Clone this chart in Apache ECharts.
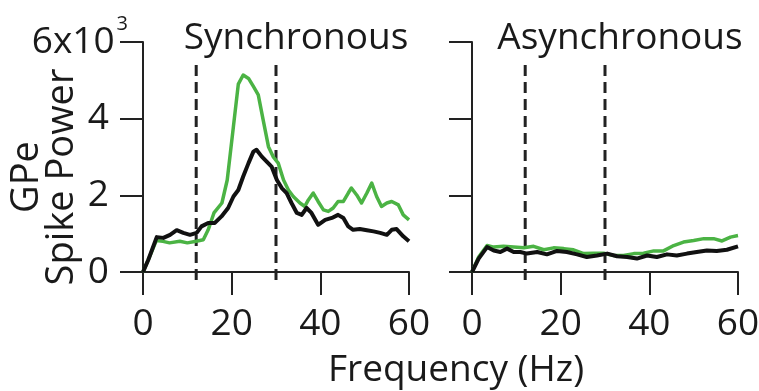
<!DOCTYPE html>
<html>
<head>
<meta charset="utf-8">
<script src="https://cdn.jsdelivr.net/npm/echarts@6/dist/echarts.min.js"></script>
<style>html,body{margin:0;padding:0;background:#fff;}#c{width:759px;height:391px;}</style>
</head>
<body>
<div id="c"></div>
<script>
// ---- data (power in units of 10^3) ----
const syncFreq  = [0,1.2,3.1,4.6,6.1,7.6,9.1,10.6,12.1,13.2,14.7,16.2,17.7,19.2,20.4,21.5,22.6,23.8,24.9,25.6,26.8,27.9,29,30.2,31.3,32.4,33.5,34.7,35.8,36.9,38,39.5,41.1,42.6,44,45.2,46.3,47.4,48.9,50.5,52,53.5,55,56.1,57.2,58.7,60];
const syncBlack = [0,0.32,0.91,0.89,0.97,1.09,1.02,0.97,1.02,1.19,1.28,1.28,1.45,1.67,1.97,2.14,2.49,2.84,3.14,3.19,3.01,2.88,2.75,2.4,2.19,2.06,1.8,1.54,1.49,1.67,1.54,1.23,1.36,1.41,1.49,1.41,1.19,1.1,1.12,1.09,1.06,1.02,0.97,1.1,1.12,0.93,0.8];
const syncGreenFreq = [0,1.5,3,4.5,6,8.3,10,12,13.6,14.7,16,17.8,19,20.4,21.5,22.6,23.8,24.9,26,27.1,28.3,29.4,30.5,31.7,32.8,33.9,35.4,36.5,37.3,38.4,39.5,40.7,41.8,42.9,44,45.2,46.3,47,48.2,49.3,50.5,51.6,52.7,53.8,55,56.1,57.6,58.7,60];
const syncGreen = [0,0.4,0.82,0.8,0.76,0.8,0.76,0.8,0.84,1.1,1.54,1.8,2.4,3.8,4.9,5.14,5.05,4.84,4.62,3.97,3.27,3.0,2.84,2.4,2.14,1.97,1.8,1.71,1.88,2.06,1.84,1.62,1.58,1.67,1.84,1.84,2.06,2.19,2.01,1.8,2.06,2.32,1.97,1.71,1.8,1.84,1.75,1.49,1.36];
const asyncGreenFreq = [0,1.5,3.4,4.9,7.1,9.4,11.7,13.9,16.2,18.4,20.7,22.9,25.2,27.4,29.7,32,34.2,36.5,38.7,41,43.2,45.5,47.7,50,52.3,54.5,56.4,58.3,60];
const asyncGreen = [0,0.39,0.69,0.65,0.67,0.65,0.63,0.67,0.58,0.63,0.61,0.58,0.48,0.49,0.49,0.43,0.43,0.48,0.49,0.55,0.55,0.69,0.78,0.82,0.87,0.87,0.81,0.91,0.95];
const asyncBlackFreq = [0,1.5,3.4,4.9,6.4,7.9,9.4,10.9,12.4,14.7,16.9,19.2,21.4,23.7,25.9,28.2,30.5,32.7,35,37.2,39.5,41.7,44,46.2,48.5,50.7,53,55.2,57.5,60];
const asyncBlack = [0,0.35,0.65,0.56,0.52,0.61,0.52,0.52,0.48,0.52,0.46,0.55,0.52,0.46,0.39,0.43,0.48,0.41,0.39,0.35,0.43,0.39,0.46,0.43,0.48,0.52,0.56,0.55,0.58,0.67];
const bandEdges = [12, 30];          // beta band boundaries (Hz)
const bandSpan  = [5.4, -0.25];      // vertical extent of dashed lines
const yTickLabels = ['0', '2', '4', '6x10^3'];
const panelTitles = ['Synchronous', 'Asynchronous'];
const xName = 'Frequency (Hz)';
const yName = 'GPe\nSpike Power';

const GREEN = '#4bb344', BLACK = '#111111', AX = '#222222';
const FONT = 'Open Sans';

function zip(xs, ys) { return xs.map((x, i) => [x, ys[i]]); }

const grids = [
  { left: 143, width: 266, top: 42, height: 230, containLabel: false, outerBoundsMode: 'none' },
  { left: 472, width: 266, top: 42, height: 230, containLabel: false, outerBoundsMode: 'none' }
];

function xAxis(i) {
  return {
    gridIndex: i, type: 'value', min: 0, max: 60, interval: 20,
    axisLine: { show: true, lineStyle: { color: AX, width: 2 } },
    axisTick: { show: true, inside: false, length: 23, lineStyle: { color: AX, width: 2 } },
    axisLabel: { show: true, margin: 34, fontFamily: FONT, fontSize: 37, color: '#1a1a1a' },
    splitLine: { show: false }
  };
}
function yAxis(i) {
  return {
    gridIndex: i, type: 'value', min: 0, max: 6, interval: 2,
    axisLine: { show: true, lineStyle: { color: AX, width: 2 } },
    axisTick: { show: true, inside: false, length: 23, lineStyle: { color: AX, width: 2 } },
    axisLabel: i === 0 ? {
      show: true, margin: 15, fontFamily: FONT, color: '#1a1a1a',
      formatter: function (v) {
        const t = yTickLabels[Math.round(v / 2)];
        if (t.indexOf('^') >= 0) {
          const p = t.split('^');
          return '{a|' + p[0] + '}{s|' + p[1] + '}';
        }
        return '{n|' + t + '}';
      },
      rich: {
        n: { fontFamily: FONT, fontSize: 37, color: '#1a1a1a', padding: [0, 19, 0, 0] },
        a: { fontFamily: FONT, fontSize: 37, color: '#1a1a1a' },
        s: { fontFamily: FONT, fontSize: 20, color: '#1a1a1a', lineHeight: 20, padding: [0, 0, 36, 2] }
      }
    } : { show: false },
    splitLine: { show: false },
    name: i === 0 ? yName : '',
    nameLocation: 'middle', nameRotate: 90, nameGap: 63, nameMoveOverlap: false,
    nameTextStyle: { fontFamily: FONT, fontSize: 38, lineHeight: 35, color: '#1a1a1a', padding: [0, 40, 0, 0] }
  };
}

function lineSeries(i, data, color, width, z) {
  return { type: 'line', xAxisIndex: i, yAxisIndex: i, data: data, showSymbol: false, symbol: 'none',
    lineStyle: { color: color, width: width, join: 'round' }, z: z, silent: true, animation: false };
}
function dashSeries(i, x) {
  return { type: 'line', xAxisIndex: i, yAxisIndex: i, data: [[x, bandSpan[0]], [x, bandSpan[1]]],
    showSymbol: false, symbol: 'none', clip: false,
    lineStyle: { color: AX, width: 3, type: [11, 6] }, z: 1, silent: true, animation: false };
}

const series = [];
[0, 1].forEach(i => bandEdges.forEach(x => series.push(dashSeries(i, x))));
series.push(lineSeries(0, zip(syncGreenFreq, syncGreen), GREEN, 3.5, 2));
series.push(lineSeries(0, zip(syncFreq, syncBlack), BLACK, 4, 3));
series.push(lineSeries(1, zip(asyncGreenFreq, asyncGreen), GREEN, 3.5, 2));
series.push(lineSeries(1, zip(asyncBlackFreq, asyncBlack), BLACK, 4, 3));

const chart = echarts.init(document.getElementById('c'), null, { renderer: 'canvas' });
chart.setOption({
  backgroundColor: '#fff',
  animation: false,
  title: [
    { text: panelTitles[0], left: 291, top: 11, textAlign: 'center',
      textStyle: { fontFamily: FONT, fontSize: 37, fontWeight: 'normal', color: '#1a1a1a', lineHeight: 44 } },
    { text: panelTitles[1], left: 615, top: 11, textAlign: 'center',
      textStyle: { fontFamily: FONT, fontSize: 37, fontWeight: 'normal', color: '#1a1a1a', lineHeight: 44 } },
    { text: xName, left: 451, top: 343, textAlign: 'center',
      textStyle: { fontFamily: FONT, fontSize: 37, fontWeight: 'normal', color: '#1a1a1a', lineHeight: 44 } }
  ],
  grid: grids,
  xAxis: [xAxis(0), xAxis(1)],
  yAxis: [yAxis(0), yAxis(1)],
  series: series
});
</script>
</body>
</html>
